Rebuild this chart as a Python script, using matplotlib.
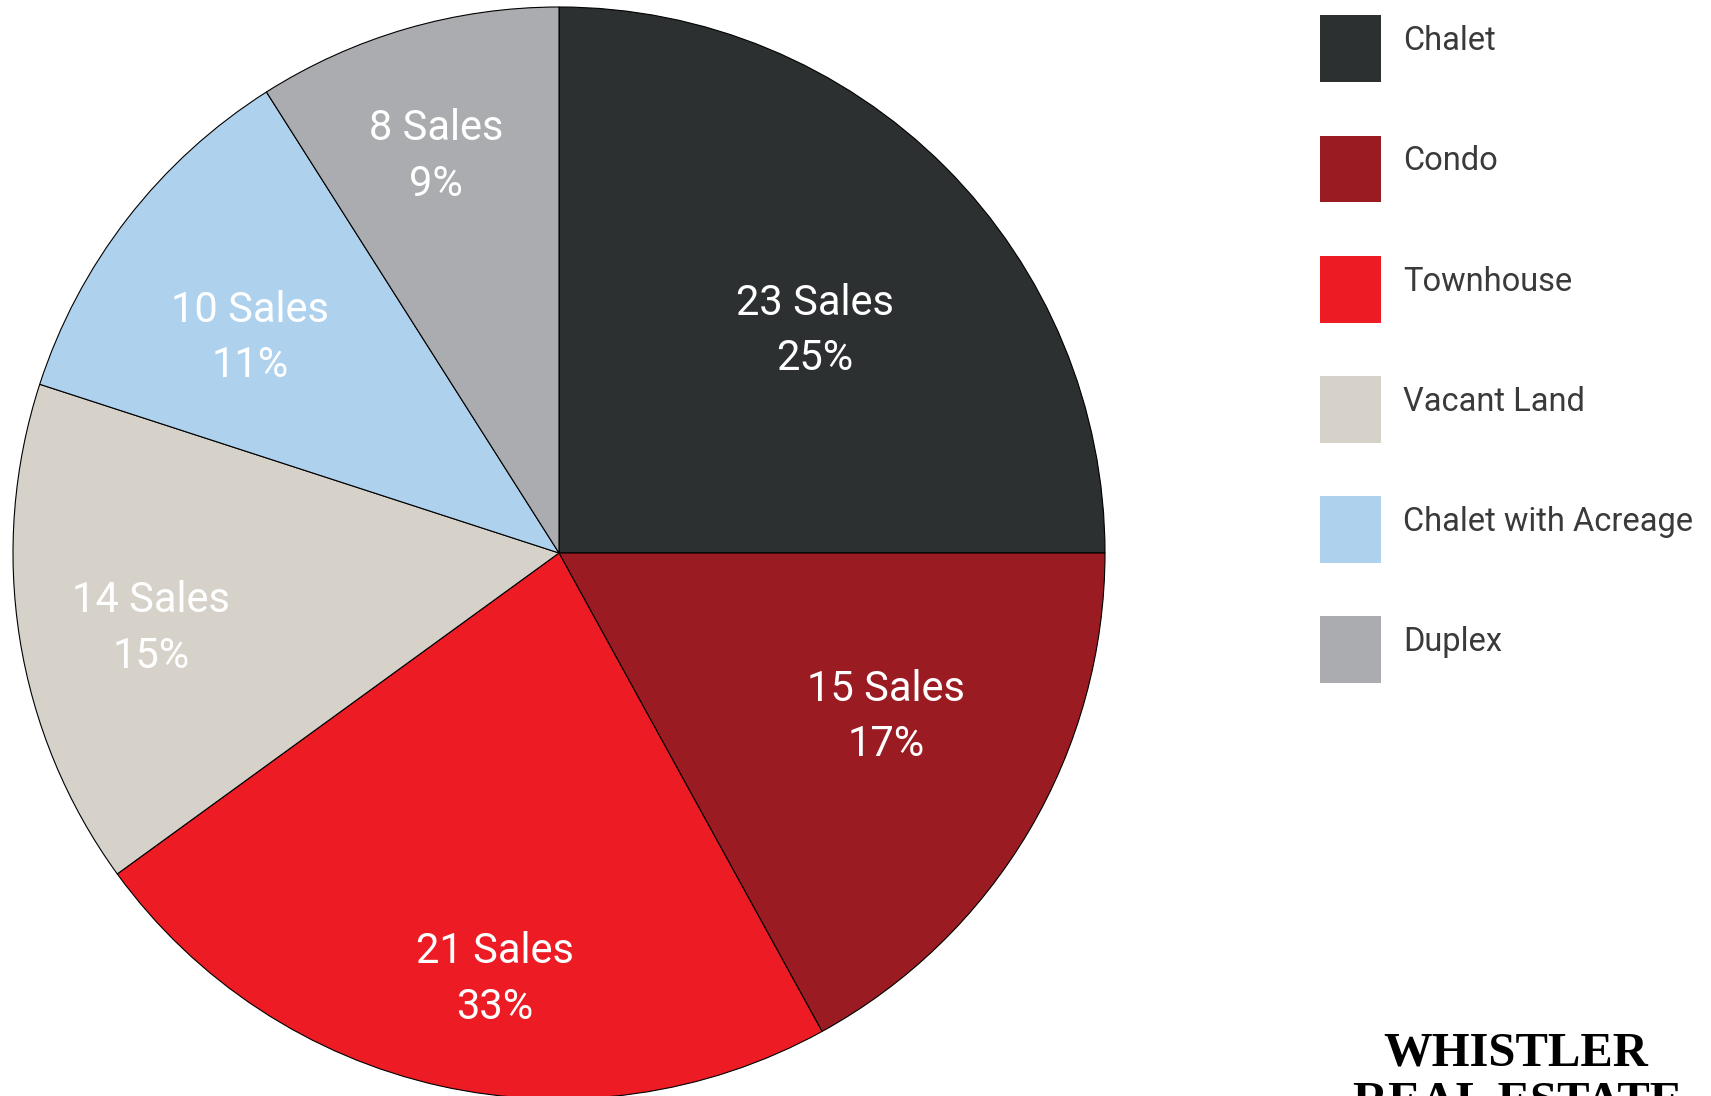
import matplotlib.pyplot as plt
import numpy as np
from matplotlib.patches import Patch, Rectangle
from matplotlib.legend_handler import HandlerPatch

categories = ["Chalet", "Condo", "Townhouse", "Vacant Land", "Chalet with Acreage", "Duplex"]
sales = [23, 15, 21, 14, 10, 8]
shares = [25, 17, 23, 15, 11, 9]          # slice sizes (% of sales)
pct_labels = ["25%", "17%", "33%", "15%", "11%", "9%"]   # as printed on the chart
colors = ["#2d3030", "#9b1b22", "#ed1c24", "#d6d2ca", "#aed2ee", "#abacb0"]
# label placement: fraction of radius and angle nudge (deg)
label_r = [0.62, 0.67, 0.79, 0.76, 0.69, 0.76]
label_da = [-4, 4, 4, 1.5, 3, 1]

plt.rcParams['font.family'] = ['Roboto', 'DejaVu Sans']

W, H = 1711, 1096
fig = plt.figure(figsize=(W / 100, H / 100), dpi=100)
cx, cy, r = 559, 553, 546
ax = fig.add_axes([(cx - r) / W, (H - cy - r) / H, 2 * r / W, 2 * r / H])

wedges, _ = ax.pie(shares, colors=colors, startangle=90, counterclock=False,
                   wedgeprops=dict(edgecolor="black", linewidth=0.8))
ax.set_xlim(-1, 1)
ax.set_ylim(-1, 1)
ax.set_aspect("equal")
ax.axis("off")

for w, n, p, d, da in zip(wedges, sales, pct_labels, label_r, label_da):
    ang = np.deg2rad((w.theta1 + w.theta2) / 2 + da)
    ax.text(d * np.cos(ang), d * np.sin(ang), f"{n} Sales\n{p}",
            ha="center", va="center", color="white", fontsize=30,
            linespacing=1.45)


# squares sit a little lower than the label text in the original
def low_square(legend, orig_handle, xdescent, ydescent, width, height, fontsize):
    return Rectangle((-xdescent, -ydescent - 6), width, height)


handles = [Patch(facecolor=c, edgecolor="none") for c in colors]
fig.legend(handles, categories, loc="upper left",
           bbox_to_anchor=(1320 / W, 1 - 7 / H), frameon=False,
           fontsize=23.5, labelcolor="#3a3a3a", borderpad=0, borderaxespad=0,
           handlelength=1.87, handleheight=2.78, handletextpad=0.67,
           labelspacing=1.63,
           handler_map={Patch: HandlerPatch(patch_func=low_square)})

fig.text(1516 / W, 1 - 1065 / H, "WHISTLER", ha="center", va="baseline",
         family="Liberation Serif", fontweight="bold", fontsize=35, color="black")
fig.text(1518 / W, 1 - 1115 / H, "REAL ESTATE", ha="center", va="baseline",
         family="Liberation Serif", fontweight="bold", fontsize=35, color="black")

fig.savefig("out.png", dpi=100)
